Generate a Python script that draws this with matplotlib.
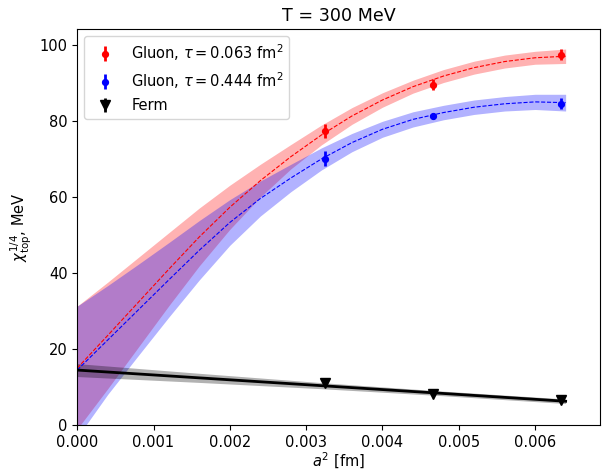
import numpy as np
import matplotlib
matplotlib.use("Agg")
import matplotlib.pyplot as plt

plt.rcParams['font.size'] = 10.5

# measured points
a2_pts = [0.00325, 0.00466, 0.00634]
glu1_y = [77.3, 89.5, 97.4]
glu1_err = [1.8, 1.4, 1.5]
glu2_y = [70.1, 81.3, 84.5]
glu2_err = [2.0, 0.8, 1.5]
ferm_y = [11.1, 8.2, 6.6]
ferm_err = [0.4, 0.3, 0.4]

# fit curves
fit_x = [0, 0.0004, 0.0008, 0.0012, 0.0016, 0.002, 0.0024, 0.0028, 0.0032,
         0.0036, 0.004, 0.0044, 0.0048, 0.0052, 0.0056, 0.006, 0.0064]
glu1_fit = [15.0, 23.6, 32.3, 41.0, 49.5, 57.3, 64.3, 70.6, 76.3,
            81.3, 85.5, 89.0, 91.8, 94.0, 95.6, 96.6, 97.0]
glu1_up = [31.3, 37.6, 44.1, 50.6, 57.1, 63.1, 68.6, 73.8, 78.9,
           83.5, 87.4, 90.7, 93.5, 95.7, 97.3, 98.3, 98.9]
glu1_lo = [-1.0, 9.6, 20.5, 31.4, 41.9, 51.5, 60.0, 67.4, 73.7,
           79.1, 83.6, 87.3, 90.1, 92.3, 93.9, 94.9, 95.1]
glu2_fit = [14.5, 22.4, 30.3, 38.2, 46.0, 53.3, 59.6, 65.0, 70.0,
            74.3, 77.8, 80.4, 82.2, 83.6, 84.5, 85.0, 84.8]
glu2_up = [31.3, 36.7, 42.3, 48.0, 53.8, 59.3, 64.2, 68.6, 72.9,
           76.7, 79.9, 82.4, 84.1, 85.5, 86.4, 87.0, 87.0]
glu2_lo = [-3.2, 8.1, 18.3, 28.4, 38.2, 47.3, 55.0, 61.4, 67.1,
           71.9, 75.7, 78.4, 80.3, 81.7, 82.6, 83.0, 82.6]

ferm_x = [0, 0.0016, 0.0032, 0.0048, 0.0064]
ferm_fit = [14.5, 12.45, 10.4, 8.35, 6.3]
ferm_up = [16.2, 13.65, 11.2, 8.95, 6.9]
ferm_lo = [12.8, 11.25, 9.6, 7.75, 5.7]

fig, ax = plt.subplots(figsize=(6.03, 4.73), dpi=100)
fig.subplots_adjust(left=0.128, right=0.995, top=0.939, bottom=0.101)

# bands
ax.fill_between(fit_x, glu1_lo, glu1_up, color='red', alpha=0.3, lw=0)
ax.fill_between(fit_x, glu2_lo, glu2_up, color='blue', alpha=0.3, lw=0)
ax.fill_between(ferm_x, ferm_lo, ferm_up, color='black', alpha=0.3, lw=0)

# fit lines
ax.plot(fit_x, glu1_fit, color='red', ls='--', lw=0.8)
ax.plot(fit_x, glu2_fit, color='blue', ls='--', lw=0.8)
ax.plot(ferm_x, ferm_fit, color='black', lw=2)

# data
ax.errorbar(a2_pts, glu1_y, yerr=glu1_err, fmt='o', color='red', ms=4.2, elinewidth=2,
            label=r'Gluon, $\tau = 0.063$ fm$^2$')
ax.errorbar(a2_pts, glu2_y, yerr=glu2_err, fmt='o', color='blue', ms=4.2, elinewidth=2,
            label=r'Gluon, $\tau = 0.444$ fm$^2$')
ax.errorbar(a2_pts, ferm_y, yerr=ferm_err, fmt='v', color='black', ms=7.5, elinewidth=2,
            label='Ferm')

ax.set_xlim(0, 0.00685)
ax.set_ylim(0, 104.2)
ax.set_xlabel(r'$a^2$ [fm]', labelpad=1)
ax.set_ylabel(r'$\chi_{\rm top}^{1/4}$, MeV')
ax.set_title('T = 300 MeV')
ax.legend(loc='upper left')

fig.savefig('out.png', dpi=100)
